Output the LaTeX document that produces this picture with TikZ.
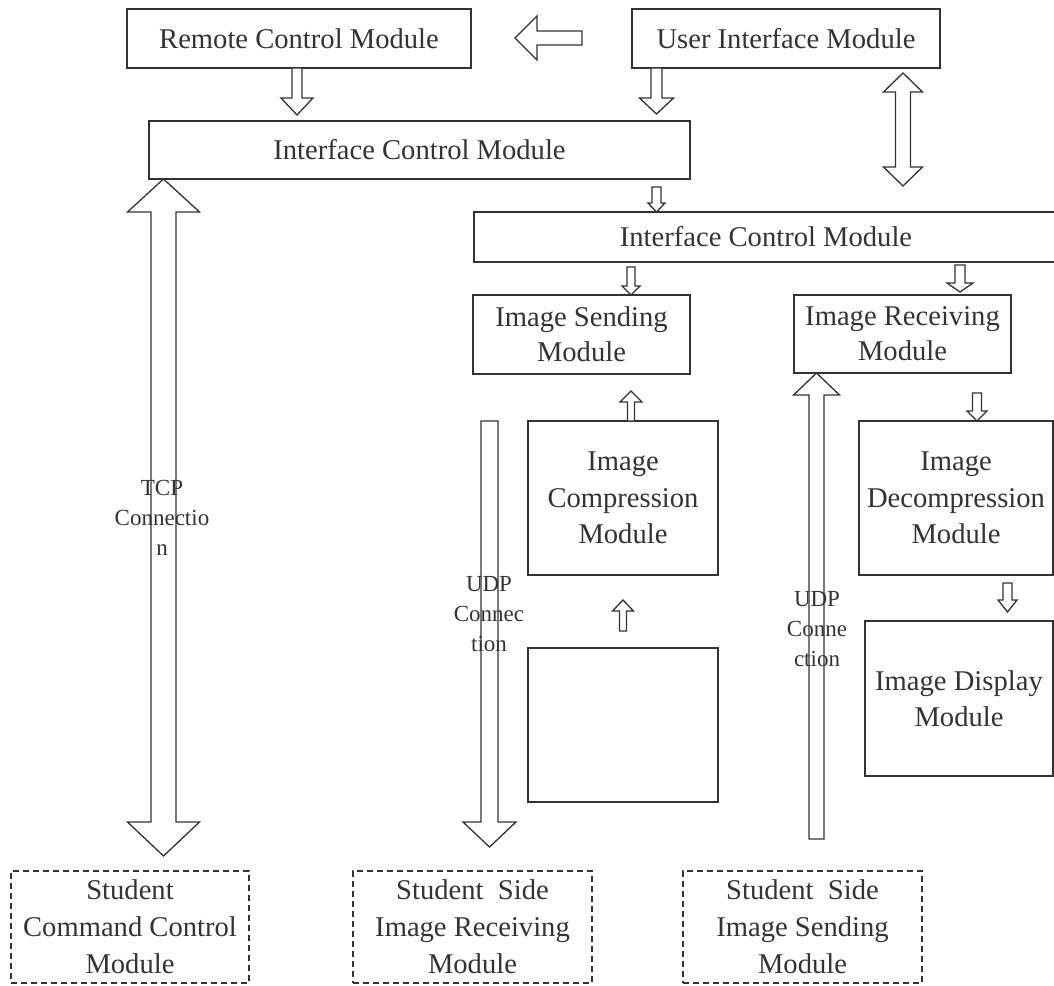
\documentclass[tikz,border=0pt]{standalone}
\usepackage{fontspec}
\setmainfont{Liberation Serif}
\newcommand\myArrow[6]{% x, tail, base, tip, shafthalf, headhalf
  \draw[blk] ({#1-#5},#2) -- ({#1+#5},#2) -- ({#1+#5},#3) -- ({#1+#6},#3) -- (#1,#4)
    -- ({#1-#6},#3) -- ({#1-#5},#3) -- cycle;}
\newcommand\myDbl[7]{% x, tip1, base1, base2, tip2, shafthalf, headhalf
  \draw[blk] (#1,#2) -- ({#1+#7},#3) -- ({#1+#6},#3) -- ({#1+#6},#4) -- ({#1+#7},#4) -- (#1,#5)
    -- ({#1-#7},#4) -- ({#1-#6},#4) -- ({#1-#6},#3) -- ({#1-#7},#3) -- cycle;}
\begin{document}
\begin{tikzpicture}[x=1pt,y=-1pt,
  line width=1.3pt,
  every node/.style={inner sep=0pt, outer sep=0pt, align=center, text=black!80},
  box/.style={draw=black!80, rectangle, font=\fontsize{28.6}{35}\selectfont},
  dbox/.style={box, dashed, dash pattern=on 6pt off 4pt, font=\fontsize{28.6}{37}\selectfont},
  blk/.style={draw=black!80, fill=white, line width=1.3pt},
  lbl/.style={font=\fontsize{23}{30}\selectfont}]
\useasboundingbox (0,0) rectangle (1054,985);
\begin{scope}
\clip (0,0) rectangle (1054,985);
% boxes
\node[box, minimum width=344, minimum height=59] (remote) at (299,38.5) {Remote Control Module};
\node[box, minimum width=308, minimum height=59] (ui) at (786,38.5) {User Interface Module};
\node[box, minimum width=541, minimum height=58] (icm1) at (419.5,150) {Interface Control Module};
\node[box, minimum width=584, minimum height=50] (icm2) at (766,237) {Interface Control Module};
\node[box, minimum width=217, minimum height=79] (send) at (581.5,334.5) {Image Sending\\Module};
\node[box, minimum width=217, minimum height=78] (recv) at (902.5,334) {Image Receiving\\Module};
\node[box, minimum width=190, minimum height=154, font=\fontsize{28.6}{36.5}\selectfont] (comp) at (623,498) {Image\\Compression\\Module};
\node[box, minimum width=194, minimum height=154, font=\fontsize{28.6}{36.5}\selectfont] (decomp) at (956,498) {Image\\Decompression\\Module};
\node[box, minimum width=188, minimum height=155, font=\fontsize{28.6}{36.5}\selectfont] (disp) at (959,698.5) {Image Display\\Module};
\node[box, minimum width=190, minimum height=154] (empty) at (623,725) {};
\node[dbox, minimum width=238, minimum height=112] (scc) at (130,927) {Student\\Command Control\\Module};
\node[dbox, minimum width=239, minimum height=112] (ssr) at (472.5,927) {Student\ \ Side\\Image Receiving\\Module};
\node[dbox, minimum width=239, minimum height=112] (sss) at (802.5,927) {Student\ \ Side\\Image Sending\\Module};
% block arrows
\draw[blk] (515,38) -- (537,16) -- (537,31) -- (582,31) -- (582,45) -- (537,45) -- (537,60) -- cycle;
\myArrow{297}{68}{98}{115}{5}{16}
\myArrow{656.5}{68}{98}{114}{5.5}{17}
\myDbl{903}{73}{92}{167}{186}{7.5}{19.5}
\myArrow{656.5}{187}{203}{212}{4.5}{8.5}
\myArrow{631}{267}{286}{295}{4}{9}
\myArrow{960}{265}{283}{292}{5}{13}
\myArrow{631}{421}{402}{391}{3.5}{11}
\myArrow{623}{631}{611}{600}{3.5}{10.5}
\myArrow{977}{393}{411}{421}{4.5}{10}
\myArrow{1007.5}{583}{600}{612}{4.5}{9.5}
\myDbl{163.5}{179}{212}{822}{856}{12.5}{36}
\myArrow{489.5}{421}{822}{847}{8.5}{26.5}
\myArrow{816.5}{839}{395}{373}{7.5}{23}
% labels
\node[lbl] (tcp) at (162,518) {TCP\\Connectio\\n};
\node[lbl] (udp1) at (489,614) {UDP\\Connec\\tion};
\node[lbl] (udp2) at (817,629) {UDP\\Conne\\ction};
\end{scope}
\end{tikzpicture}
\end{document}
